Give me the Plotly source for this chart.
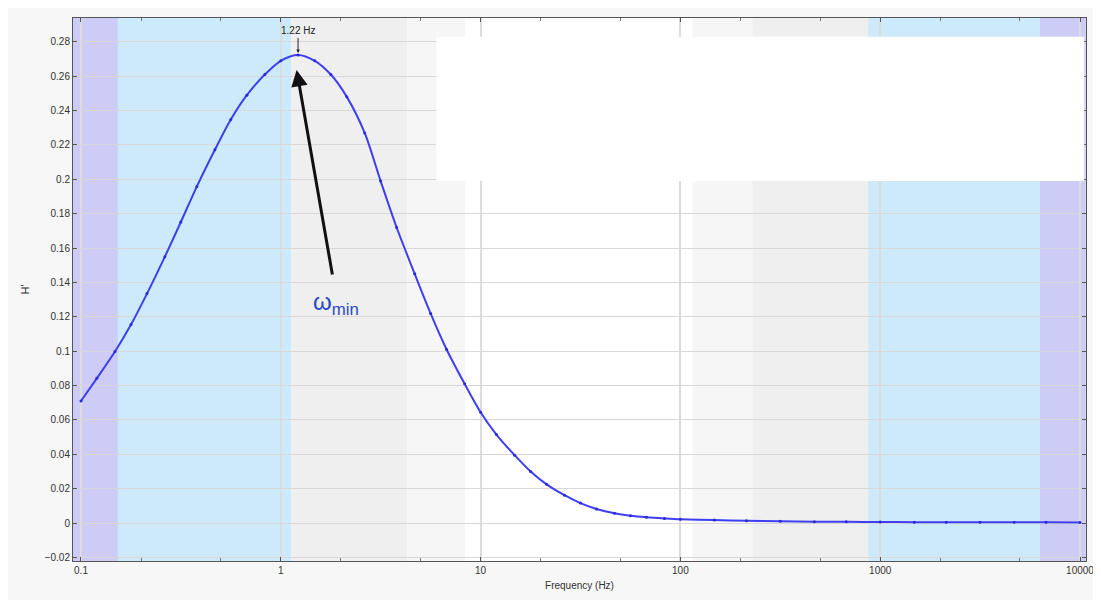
import math
import plotly.graph_objects as go

# ---- data ----
freq_hz = [0.1, 0.12, 0.148, 0.178, 0.214, 0.263, 0.316, 0.38, 0.468, 0.562, 0.676, 0.832,
           1.0, 1.22, 1.48, 1.78, 2.14, 2.63, 3.16, 3.8, 4.68, 5.62, 6.76, 8.32,
           10, 12, 14.8, 17.8, 21.4, 26.3, 31.6, 38, 46.8, 56.2, 67.6, 83.2,
           100, 148, 214, 316, 468, 676, 1000, 1480, 2140, 3160, 4680, 6760, 10000]
h_values = [0.0710, 0.0842, 0.0998, 0.1155, 0.1335, 0.1550, 0.1752, 0.1958, 0.2172, 0.2348, 0.2490, 0.2610,
            0.2690, 0.2724, 0.2690, 0.2610, 0.2480, 0.2270, 0.1990, 0.1720, 0.1450, 0.1220, 0.1010, 0.0810,
            0.0645, 0.0515, 0.0395, 0.0300, 0.0225, 0.0162, 0.0116, 0.0082, 0.0057, 0.0043, 0.0034, 0.0027,
            0.0022, 0.0017, 0.0013, 0.0010, 0.0008, 0.0007, 0.0006, 0.0005, 0.0005, 0.0004, 0.0004, 0.0004, 0.0003]

peak_freq = 1.22
peak_label = "1.22 Hz"

# background frequency bands (Hz edges) and their colours
band_edges = [0.09, 0.153, 1.13, 4.3, 8.4, 115, 229, 870, 6300, 10700]
band_colors = ["#ccccf7", "#cdeafb", "#efefef", "#f6f6f6", "#ffffff", "#f6f6f6", "#efefef", "#cdeafb", "#ccccf7"]

y_ticks = [-0.02, 0, 0.02, 0.04, 0.06, 0.08, 0.1, 0.12, 0.14, 0.16, 0.18, 0.2, 0.22, 0.24, 0.26, 0.28]
x_ticks = [0.1, 1, 10, 100, 1000, 10000]
x_tick_labels = ["0.1", "1", "10", "100", "1000", "10000"]

fig = go.Figure()

fig.add_trace(go.Scatter(
    x=freq_hz, y=h_values, mode="lines+markers",
    line=dict(color="#3f3ff2", width=2, shape="spline", smoothing=0.8),
    marker=dict(color="#2a2ad8", size=3),
    showlegend=False, hoverinfo="x+y"))

shapes = []
for i, c in enumerate(band_colors):
    shapes.append(dict(type="rect", xref="x", yref="paper",
                       x0=band_edges[i], x1=band_edges[i + 1], y0=0, y1=1,
                       fillcolor=c, line=dict(width=0), layer="below"))
# blank legend area
shapes.append(dict(type="rect", xref="x", yref="y", x0=6.0, x1=10500, y0=0.199, y1=0.283,
                   fillcolor="white", line=dict(width=0), layer="above"))

L = math.log10
fig.update_layout(
    width=1093, height=592,
    margin=dict(l=65, r=15, t=10, b=39),
    paper_bgcolor="#f7f7f7", plot_bgcolor="white",
    font=dict(family="Liberation Sans, Arial, sans-serif", size=10, color="#333"),
    shapes=shapes,
    annotations=[
        dict(x=L(peak_freq), y=h_values[freq_hz.index(peak_freq)], xref="x", yref="y",
             text=peak_label, showarrow=True, arrowhead=2, arrowsize=0.7, arrowwidth=1,
             arrowcolor="#222", ax=0, ay=-24, standoff=2,
             font=dict(size=10, color="#222")),
        dict(x=L(1.2), y=0.2637, xref="x", yref="y", text="", showarrow=True,
             arrowhead=2, arrowsize=1.1, arrowwidth=3, arrowcolor="#111", ax=36, ay=206),
        dict(x=L(1.9), y=0.128, xref="x", yref="y", text="ω<sub>min</sub>", showarrow=False,
             font=dict(size=24, color="#2a4bbf", family="Liberation Sans, Arial, sans-serif")),
    ],
)

fig.update_xaxes(
    type="log", range=[-1.04, 4.03], automargin=False,
    tickvals=x_ticks, ticktext=x_tick_labels,
    showgrid=True, gridcolor="#dcdcdc", gridwidth=2,
    showline=True, linecolor="#555", linewidth=1, mirror="allticks",
    ticks="inside", ticklen=4, tickcolor="#555",
    minor=dict(ticks="inside", ticklen=3, tickcolor="#777", showgrid=False),
    zeroline=False,
    title=dict(text="Frequency (Hz)", font=dict(size=10, color="#333"), standoff=6),
)
fig.update_yaxes(
    range=[-0.0221, 0.2939], automargin=False,
    tickvals=y_ticks,
    showgrid=True, gridcolor="#d8d8d8", gridwidth=1,
    showline=True, linecolor="#555", linewidth=1, mirror="allticks",
    ticks="inside", ticklen=4, tickcolor="#555",
    zeroline=False,
    title=dict(text="H'", font=dict(size=11, color="#333"), standoff=12),
)

fig.write_html("out.html")
